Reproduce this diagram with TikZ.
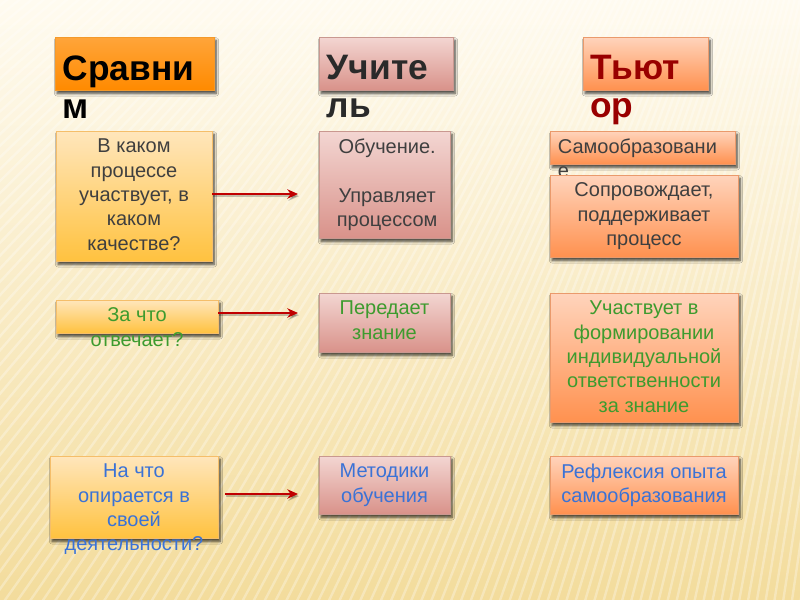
\documentclass[tikz,border=0pt]{standalone}
\usepackage{fontspec}
\setmainfont{Liberation Sans}
\usetikzlibrary{shadows.blur,arrows.meta}
\definecolor{bgtop}{HTML}{FFFBF0}
\definecolor{bgmid}{HTML}{FBEABD}
\definecolor{bgbot}{HTML}{F3DC9C}
\definecolor{hAtop}{HTML}{FFA53A}
\definecolor{hAbot}{HTML}{FF8A00}
\definecolor{hAline}{HTML}{F39A2C}
\definecolor{mtop}{HTML}{F3D6D2}
\definecolor{mbot}{HTML}{D9928A}
\definecolor{mline}{HTML}{C99890}
\definecolor{rtop}{HTML}{FFD4BC}
\definecolor{rbot}{HTML}{FF914F}
\definecolor{rline}{HTML}{EA9A6C}
\definecolor{qtop}{HTML}{FFE6BC}
\definecolor{qbot}{HTML}{FFC23F}
\definecolor{qline}{HTML}{F5BE6A}
\definecolor{tgray}{HTML}{3F3F3F}
\definecolor{tdark}{HTML}{2A2A2A}
\definecolor{tgreen}{HTML}{3D9B2E}
\definecolor{tblue}{HTML}{3A72D6}
\definecolor{tred}{HTML}{990000}
\definecolor{arrred}{HTML}{C00000}
\begin{document}
\begin{tikzpicture}[x=0.75pt,y=-0.75pt,
  box/.style={rectangle, inner sep=0pt, line width=0.6pt,
    blur shadow={shadow xshift=1.5pt, shadow yshift=-2.5pt, shadow blur steps=6,
      shadow blur radius=2pt, shadow opacity=75}},
  hboxA/.style={box, draw=hAline, top color=hAtop, bottom color=hAbot},
  qbox/.style={box, draw=qline, top color=qtop, bottom color=qbot},
  mbox/.style={box, draw=mline, top color=mtop, bottom color=mbot},
  rbox/.style={box, draw=rline, top color=rtop, bottom color=rbot},
  head/.style={anchor=north west, inner sep=0pt, align=left,
    font=\fontsize{26.5}{28.5}\selectfont\bfseries},
  txt/.style={anchor=north, inner sep=0pt, align=center,
    font=\fontsize{15}{18.3}\selectfont, text=tgray},
  arr/.style={draw=arrred, line width=1.9pt, -{Stealth[length=8pt,width=7pt]}},
  arrshadow/.style={draw=black, opacity=0.22, line width=1.9pt,
    -{Stealth[length=8pt,width=7pt]}, transform canvas={xshift=0.8pt,yshift=-1.6pt}},
]
\useasboundingbox (0,0) rectangle (800,600);
\shade[top color=bgtop, middle color=bgmid, bottom color=bgbot] (0,0) rectangle (800,600);
\begin{scope}
  \clip (0,0) rectangle (800,600);
  \foreach \a in {96,96.35,...,143}
    \draw[white, opacity=0.3, line width=1.8pt] (1000,-800) -- ++(\a:3200);
\end{scope}

% headers
\node[hboxA, minimum width=119.25pt, minimum height=39.75pt] (h1) at (134.5,63.5) {};
\node[head, text=black] (h1t) at ([xshift=6pt,yshift=-14pt]h1.north west) {Сравни\\м};
\node[mbox, minimum width=100.5pt, minimum height=39.75pt] (h2) at (386,63.5) {};
\node[head, text=tdark] (h2t) at ([xshift=6pt,yshift=-14pt]h2.north west) {Учите\\ль};
\node[rbox, minimum width=93.75pt, minimum height=39.75pt] (h3) at (645.5,63.5) {};
\node[head, text=tred] (h3t) at ([xshift=5.5pt,yshift=-14pt]h3.north west) {Тьют\\ор};

% left column
\node[qbox, minimum width=117pt, minimum height=97.5pt] (q1) at (134,196) {};
\node[txt] (q1t) at ([yshift=-6pt]q1.north) {В каком\\процессе\\участвует, в\\каком\\качестве?};
\node[qbox, minimum width=121.5pt, minimum height=24.75pt] (q2) at (137,316.5) {};
\node[txt, text=tgreen] (q2t) at ([yshift=-6pt]q2.north) {За что\\отвечает?};
\node[qbox, minimum width=126pt, minimum height=61.5pt] (q3) at (134,497) {};
\node[txt, text=tblue] (q3t) at ([yshift=-6pt]q3.north) {На что\\опирается в\\своей\\деятельности?};

% middle column
\node[mbox, minimum width=98.25pt, minimum height=80.25pt] (m1) at (384.5,184.5) {};
\node[txt] (m1t) at ([xshift=2pt,yshift=-6pt]m1.north) {Обучение.\\[18.3pt]Управляет\\процессом};
\node[mbox, minimum width=98.25pt, minimum height=44.25pt] (m2) at (384.5,322.5) {};
\node[txt, text=tgreen] (m2t) at ([yshift=-6pt]m2.north) {Передает\\знание};
\node[mbox, minimum width=98.25pt, minimum height=43.5pt] (m3) at (384.5,485) {};
\node[txt, text=tblue] (m3t) at ([yshift=-6pt]m3.north) {Методики\\обучения};

% right column
\node[rbox, minimum width=138.75pt, minimum height=24.75pt] (r1) at (642.5,147.5) {};
\node[txt, anchor=north west, align=left] (r1t) at ([xshift=6pt,yshift=-6pt]r1.north west) {Самообразовани\\е};
\node[rbox, minimum width=141pt, minimum height=61.5pt] (r2) at (644,216) {};
\node[txt] (r2t) at ([yshift=-6pt]r2.north) {Сопровождает,\\поддерживает\\процесс};
\node[rbox, minimum width=141pt, minimum height=96.75pt] (r3) at (644,357.5) {};
\node[txt, text=tgreen] (r3t) at ([yshift=-6pt]r3.north) {Участвует в\\формировании\\индивидуальной\\ответственности\\за знание};
\node[rbox, minimum width=141pt, minimum height=43.5pt] (r4) at (644,485) {};
\node[txt, text=tblue] (r4t) at ([yshift=-6pt]r4.north) {Рефлексия опыта\\самообразования};

% arrows
\coordinate (a1e) at (298,194);
\coordinate (a2e) at (298,313);
\coordinate (a3s) at (225,494);
\coordinate (a3e) at (298,494);
\draw[arrshadow] (q1.east |- a1e) -- (a1e);
\draw[arr] (q1.east |- a1e) -- (a1e);
\draw[arrshadow] (q2.east |- a2e) -- (a2e);
\draw[arr] (q2.east |- a2e) -- (a2e);
\draw[arrshadow] (a3s) -- (a3e);
\draw[arr] (a3s) -- (a3e);
\end{tikzpicture}
\end{document}
